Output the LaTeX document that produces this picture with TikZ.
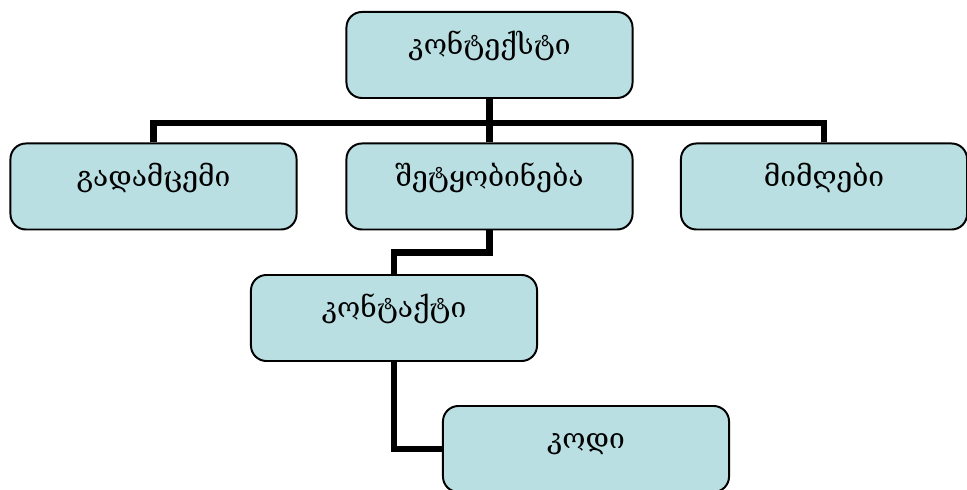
\documentclass[tikz,border=0pt]{standalone}
\usepackage{fontspec}
\setmainfont{DejaVu Serif}
\usepackage{tikz}
\usetikzlibrary{positioning}
\definecolor{boxblue}{HTML}{B9DFE3}

\begin{document}
\begin{tikzpicture}[x=0.025cm, y=-0.025cm,
  box/.style={draw=black, line width=1.4pt, fill=boxblue, rounded corners=11pt,
    minimum width=7.15cm, minimum height=2.15cm, inner sep=0pt,
    text height=0.5cm, text depth=0.5cm, font=\fontsize{20}{23}\selectfont},
  conn/.style={line width=4.3pt, draw=black}]
\useasboundingbox (0,0) rectangle (967,490);

\node[box] (ctx) at (489.5,55) {კონტექსტი};
\node[box] (snd) at (153.5,186.5) {გადამცემი};
\node[box] (msg) at (489.5,186.5) {შეტყობინება};
\node[box] (rcv) at (824,186.5) {მიმღები};
\node[box] (cnt) at (394,318) {კონტაქტი};
\node[box] (code) at (586,449) {კოდი};

\draw[conn] (ctx.south) -- ++(0,24) -| (snd.north);
\draw[conn] (ctx.south) -- ++(0,24) -| (rcv.north);
\draw[conn] (ctx.south) -- (msg.north);
\draw[conn] (msg.south) -- ++(0,22) -| (cnt.north);
\draw[conn] (cnt.south) |- (code.west);
\end{tikzpicture}
\end{document}
